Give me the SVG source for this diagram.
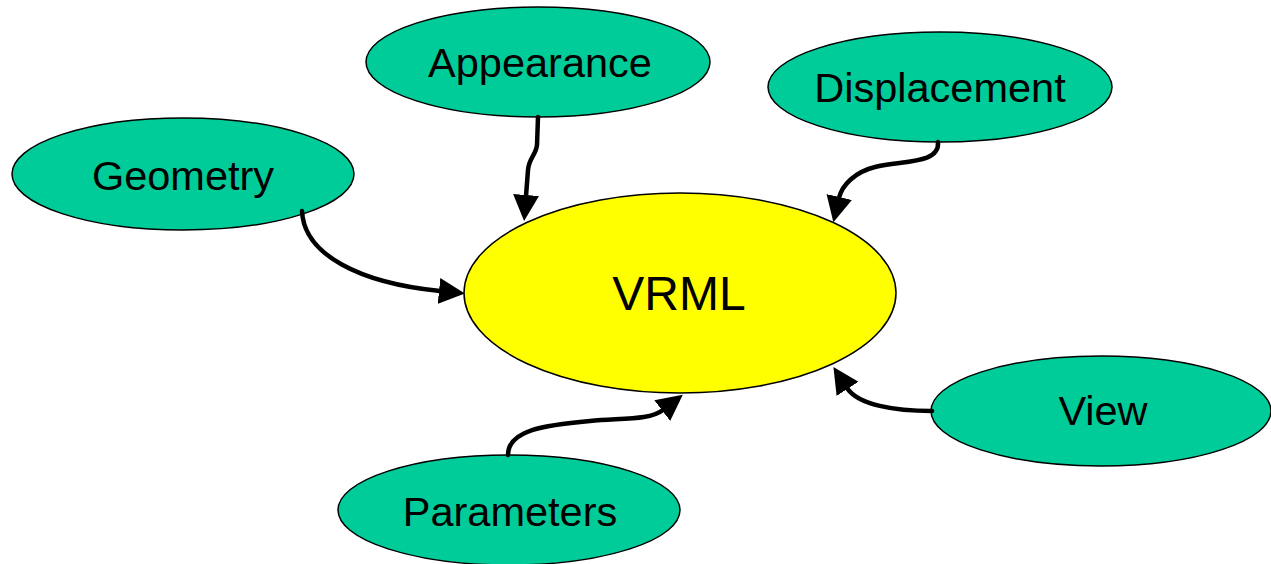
<svg xmlns="http://www.w3.org/2000/svg" width="1271" height="564" viewBox="0 0 1271 564">
<style>
.n{fill:#00CC99;stroke:#000;stroke-width:1.5}
.c{fill:#FFFF00;stroke:#000;stroke-width:1.5}
.t{font-family:"Liberation Sans",Arial,sans-serif;font-size:41.5px;fill:#000;text-anchor:middle}
.tc{font-size:48px}
.e{fill:none;stroke:#000;stroke-width:4.5;stroke-linecap:round;marker-end:url(#ah)}
</style>
<defs>
<marker id="ah" markerUnits="userSpaceOnUse" markerWidth="27" markerHeight="27" refX="1" refY="13" orient="auto" viewBox="0 0 27 26">
<path d="M0,0 L26,13 L0,26 z" fill="#000"/>
</marker>
</defs>
<rect width="1271" height="564" fill="#fff"/>
<g id="vrml"><ellipse class="c" cx="680" cy="293" rx="216" ry="100"/><text class="t tc" x="679" y="310">VRML</text></g>
<g id="geometry"><ellipse class="n" cx="183" cy="174" rx="171" ry="56"/><text class="t" x="183" y="190">Geometry</text></g>
<g id="appearance"><ellipse class="n" cx="538" cy="62" rx="172" ry="55"/><text class="t" x="540" y="77">Appearance</text></g>
<g id="displacement"><ellipse class="n" cx="940" cy="87" rx="172" ry="55"/><text class="t" x="940" y="102">Displacement</text></g>
<g id="view"><ellipse class="n" cx="1101" cy="411" rx="170" ry="55"/><text class="t" x="1103" y="425">View</text></g>
<g id="parameters"><ellipse class="n" cx="509" cy="510" rx="171" ry="55"/><text class="t" x="510" y="526">Parameters</text></g>
<g id="connectors">
<path class="e" d="M302,211 C304,255 360,283 440,291"/>
<path class="e" d="M538,117 L537,145 C536,155 529,158 528,170 L526,196"/>
<path class="e" d="M938,142 C940,165 900,160 875,167 C855,172 842,185 839,198"/>
<path class="e" d="M508,455 C508,430 545,425 590,421 C625,418 650,420 663,410"/>
<path class="e" d="M932,411 C895,411 858,405 847,388"/>
</g>
</svg>
